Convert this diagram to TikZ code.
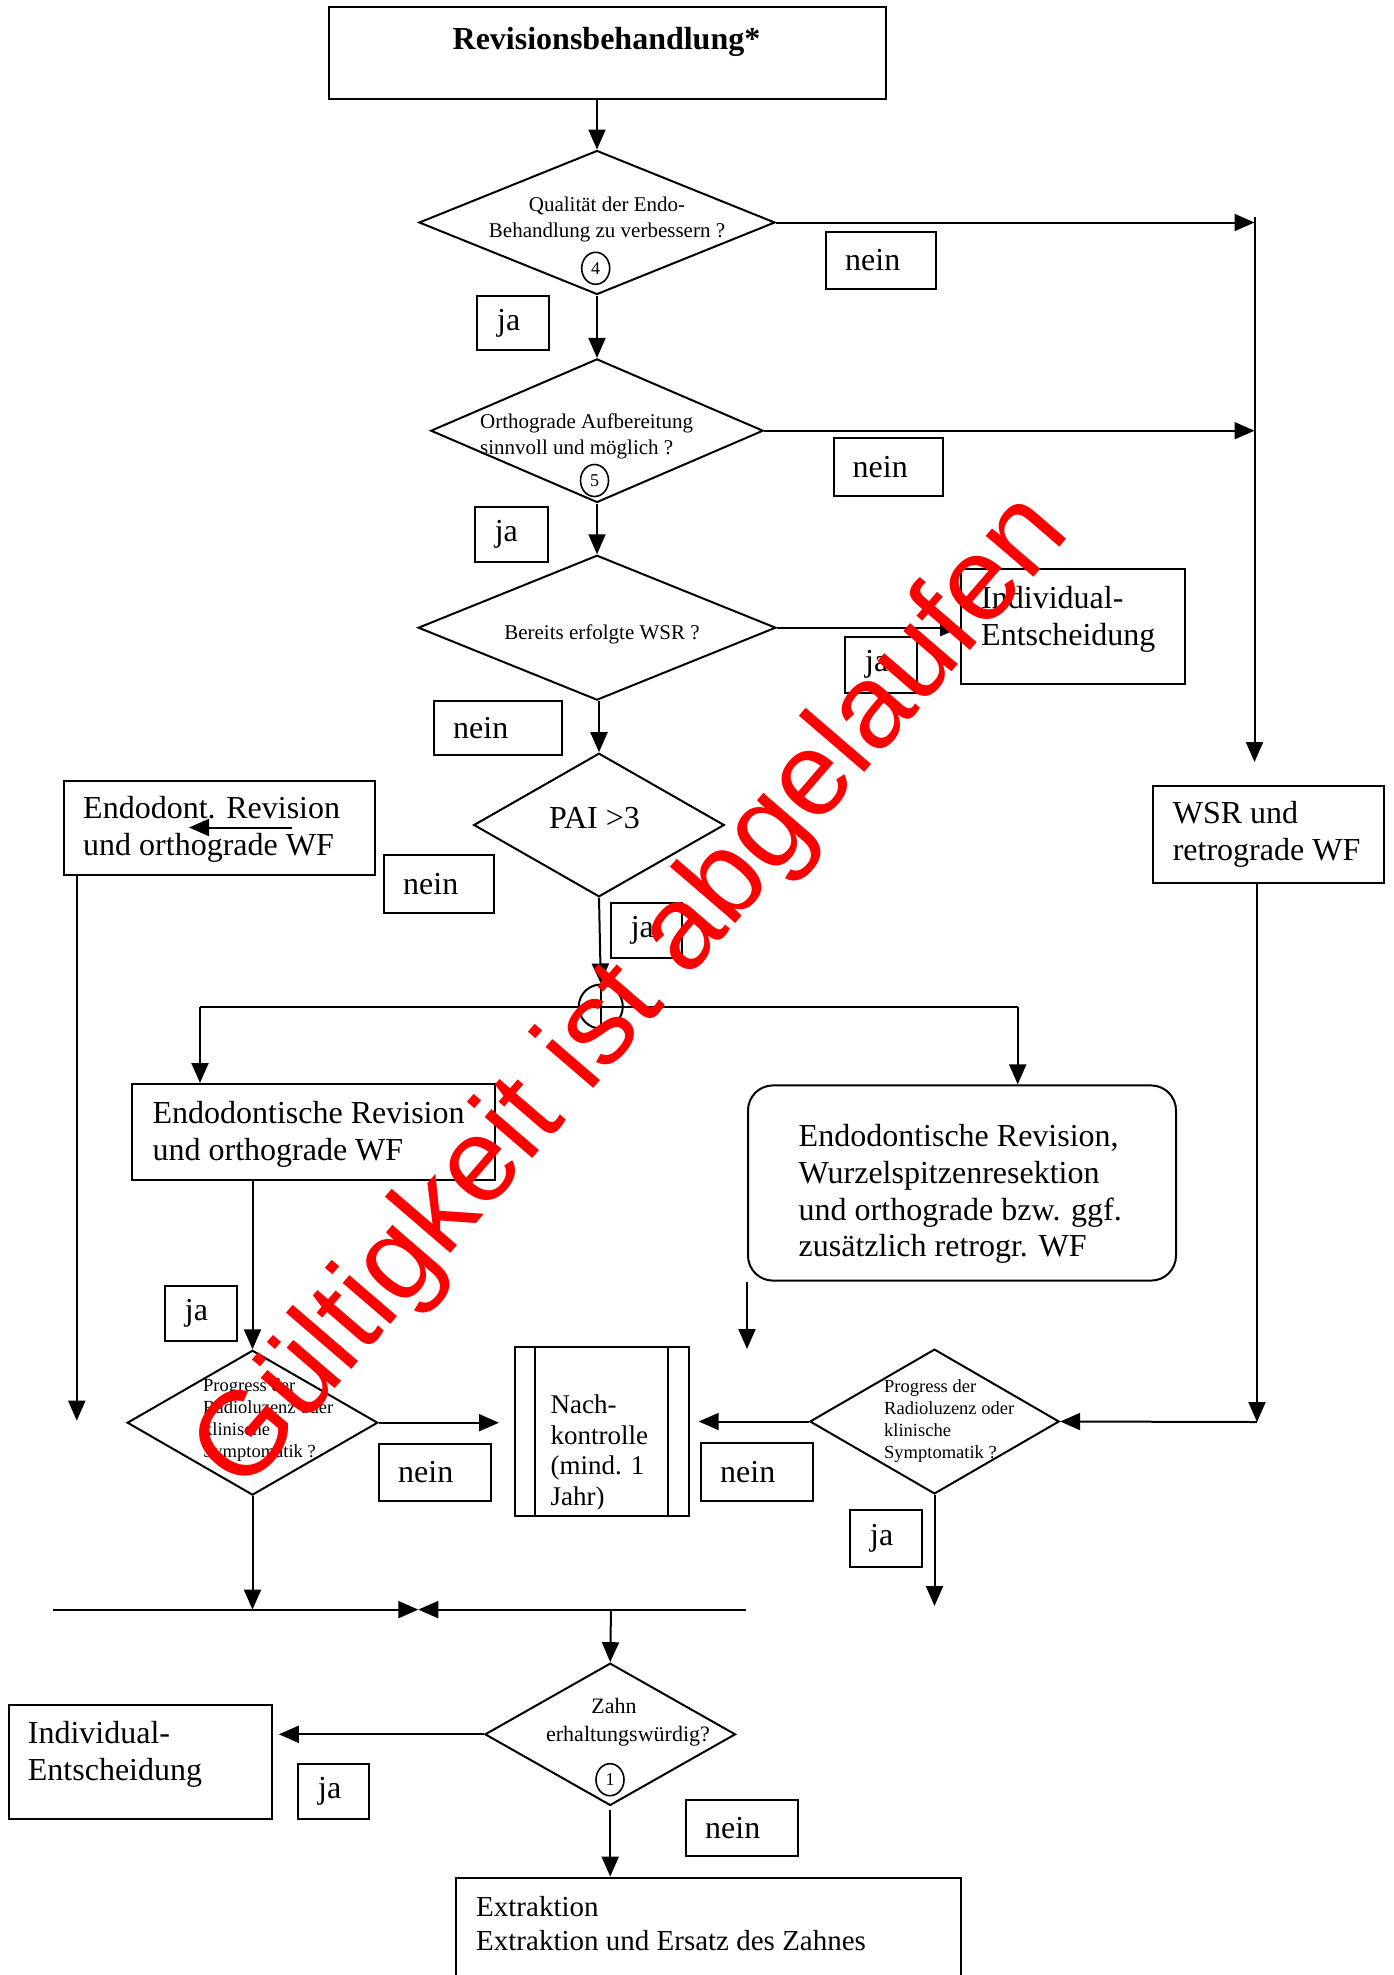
\documentclass[tikz,border=0pt]{standalone}
\usepackage{fontspec}
\setmainfont{Liberation Serif}
\newfontfamily\wmfont{Liberation Sans}
\usetikzlibrary{arrows.meta,shapes.geometric,calc}
\newcommand\FBig{\fontsize{32}{36.7}\selectfont}
\newcommand\FBld{\fontsize{32}{36.7}\selectfont\bfseries}
\newcommand\FSml{\fontsize{21}{26}\selectfont}
\newcommand\FTny{\fontsize{18.5}{21.8}\selectfont}
\newcommand\FZhn{\fontsize{22}{27.7}\selectfont}
\newcommand\FNk{\fontsize{27}{30.7}\selectfont}
\newcommand\FEx{\fontsize{29}{34}\selectfont}
\newcommand\FCrc{\fontsize{18}{20}\selectfont}
\begin{document}
\begin{tikzpicture}[x=1pt,y=-1pt,
  ln/.style={line width=2pt},
  arr/.style={ln,-{Triangle[length=20pt,width=17pt]}},
  box/.style={draw,ln,rectangle,inner sep=0pt,anchor=north west},
  dia/.style={draw,ln,diamond,inner sep=0pt},
  txt/.style={inner sep=0pt,align=left,anchor=west,font=\FBig},
  ctxt/.style={inner sep=0pt,align=center},
  circ/.style={draw,line width=1.6pt,ellipse,inner sep=0pt,minimum width=28pt,minimum height=32pt,font=\FCrc}
]
\fill[white] (0,0) rectangle (1393,1975);
\useasboundingbox (0,0) rectangle (1393,1975);

% ---------- top ----------
\node[box,minimum width=557.9pt,minimum height=91.9pt] (T) at (327.5,6.3) {};
\node[inner sep=0pt,anchor=base,font=\FBld] (tT) at (606.5,49) {Revisionsbehandlung*};

% ---------- diamonds ----------
\node[dia,minimum width=356pt,minimum height=144pt] (D1) at (597,222.5) {};
\node[ctxt,font=\FSml] (tD1) at (607,219) {Qualität der Endo-\\Behandlung zu verbessern ?};
\node[circ] (c4) at (595.7,268.3) {4};

\node[dia,minimum width=332.5pt,minimum height=143.6pt] (D2) at (597,430.7) {};
\node[txt,font=\FSml] (tD2) at (480,436) {Orthograde Aufbereitung\\sinnvoll und möglich ?};
\node[circ] (c5) at (594.5,480.5) {5};

\node[dia,minimum width=357.7pt,minimum height=144.9pt] (D3) at (597,627.7) {};
\node[ctxt,font=\FSml] (tD3) at (602,634.5) {Bereits erfolgte WSR ?};

\node[dia,minimum width=250.6pt,minimum height=143.6pt] (D4) at (599,825) {};
\node[ctxt,font=\FBig] (tD4) at (594.5,818) {PAI >3};

\node[dia,minimum width=250.6pt,minimum height=144.8pt] (D5) at (252.5,1422.7) {};
\node[txt,font=\FTny] (tD5) at (203,1420) {Progress der\\Radioluzenz oder\\klinische\\Symptomatik ?};

\node[dia,minimum width=249.4pt,minimum height=144.8pt] (D6) at (934.5,1421.5) {};
\node[txt,font=\FTny] (tD6) at (884,1421) {Progress der\\Radioluzenz oder\\klinische\\Symptomatik ?};

\node[dia,minimum width=250.6pt,minimum height=142.3pt] (D7) at (610.2,1734.3) {};
\node[ctxt,font=\FZhn] (tD7) at (628,1722) {Zahn\hspace*{28pt}\\erhaltungswürdig?};
\node[circ] (c1) at (610,1779.7) {1};

% ---------- label boxes ----------
\node[box,minimum width=109.6pt,minimum height=57.9pt] (N1) at (825,230.5) {};
\node[txt] (tN1) at ([xshift=20pt]N1.west) {nein};
\node[box,minimum width=72pt,minimum height=54.3pt] (J1) at (476,294.7) {};
\node[txt] (tJ1) at ([xshift=21pt]J1.west) {ja};
\node[box,minimum width=109.5pt,minimum height=58pt] (N2) at (832.5,437) {};
\node[txt] (tN2) at ([xshift=20pt]N2.west) {nein};
\node[box,minimum width=73pt,minimum height=54.5pt] (J2) at (473.6,506) {};
\node[txt] (tJ2) at ([xshift=21pt]J2.west) {ja};
\node[box,minimum width=71.6pt,minimum height=55.5pt] (J3) at (844,636) {};
\node[txt] (tJ3) at ([xshift=21pt]J3.west) {ja};
\node[box,minimum width=127.5pt,minimum height=54.4pt] (N3) at (433,700) {};
\node[txt] (tN3) at ([xshift=20pt]N3.west) {nein};
\node[box,minimum width=109.5pt,minimum height=58pt] (N4) at (383,854) {};
\node[txt] (tN4) at ([xshift=20pt]N4.west) {nein};
\node[box,minimum width=71.8pt,minimum height=55.4pt] (J4) at (609.6,901.8) {};
\node[txt] (tJ4) at ([xshift=21pt]J4.west) {ja};
\node[box,minimum width=71.8pt,minimum height=55.3pt] (J5) at (163.7,1284.7) {};
\node[txt] (tJ5) at ([xshift=21pt]J5.west) {ja};
\node[box,minimum width=112pt,minimum height=57pt] (N5) at (378,1443) {};
\node[txt] (tN5) at ([xshift=20pt]N5.west) {nein};
\node[box,minimum width=112pt,minimum height=58pt] (N6) at (700,1442) {};
\node[txt] (tN6) at ([xshift=20pt]N6.west) {nein};
\node[box,minimum width=71.7pt,minimum height=56.6pt] (J6) at (849,1509) {};
\node[txt] (tJ6) at ([xshift=21pt]J6.west) {ja};
\node[box,minimum width=70.8pt,minimum height=54.5pt] (J7) at (297,1763) {};
\node[txt] (tJ7) at ([xshift=21pt]J7.west) {ja};
\node[box,minimum width=112pt,minimum height=56.4pt] (N7) at (685,1798.6) {};
\node[txt] (tN7) at ([xshift=20pt]N7.west) {nein};

% ---------- process boxes ----------
\node[box,minimum width=224pt,minimum height=114.6pt] (IE1) at (960,568) {};
\node[txt] (tIE1) at (981,619) {Individual-\\Entscheidung};
\node[box,minimum width=311pt,minimum height=94.4pt] (E1) at (63,779.6) {};
\node[txt] (tE1) at (83,829) {Endodont. Revision\\und orthograde WF};
\node[box,minimum width=230.6pt,minimum height=97pt] (WSR) at (1152.4,784.7) {};
\node[txt] (tWSR) at (1172.6,834) {WSR und\\retrograde WF};
\node[box,minimum width=362.7pt,minimum height=96pt] (E2) at (131,1083) {};
\node[txt] (tE2) at (152.4,1134) {Endodontische Revision\\und orthograde WF};
\node[box,rounded corners=25pt,minimum width=428pt,minimum height=195.2pt] (R) at (747,1084.4) {};
\node[txt] (tR) at (798.5,1194) {Endodontische Revision,\\Wurzelspitzenresektion\\und orthograde bzw. ggf.\\zusätzlich retrogr. WF};
\node[box,minimum width=173.7pt,minimum height=168.6pt] (NK) at (514,1346.4) {};
\draw[ln] ([xshift=21.3pt]NK.north west) -- ([xshift=21.3pt]NK.south west);
\draw[ln] ([xshift=-21.4pt]NK.north east) -- ([xshift=-21.4pt]NK.south east);
\begin{scope}
\clip (535.3,1346.4) rectangle (666.3,1508);
\node[txt,font=\FNk] (tNK) at (550.4,1453) {Nach-\\kontrolle\\(mind. 1\\Jahr)};
\end{scope}
\node[box,minimum width=263.2pt,minimum height=113.5pt] (IE2) at (7.6,1704) {};
\node[txt] (tIE2) at (27.7,1754) {Individual-\\Entscheidung};
\node[box,minimum width=505pt,minimum height=140pt] (EX) at (454.7,1876.6) {};
\node[txt,font=\FEx] (tEX) at (476,1924) {Extraktion\\Extraktion und Ersatz des Zahnes};

% ---------- junction ----------
\node[draw,ln,circle,minimum size=44pt,inner sep=0pt] (J) at (600.8,1006.5) {};

% ---------- coordinates ----------
\coordinate (vtop) at (1254.5,217);
\coordinate (vbot) at (1254.5,762);
\coordinate (hl) at (200,1006.5);
\coordinate (hr) at (1017.7,1006.5);
\coordinate (e1a) at (76.8,874);
\coordinate (e1b) at (76.8,1420.7);
\coordinate (ia) at (292,827.5);
\coordinate (ib) at (189,827.5);
\coordinate (wsrb) at (1257,1422);
\coordinate (rb) at (747,1349);
\coordinate (d5b) at (252.5,1609.6);
\coordinate (d6b) at (934.5,1606);
\coordinate (ml) at (53,1609.6);
\coordinate (mr) at (745.6,1609.6);
\coordinate (mm) at (418.3,1609.6);
\coordinate (md) at (611,1609.6);

% ---------- connectors ----------
\draw[arr] (D1.north |- T.south) -- (D1.north);
\draw[arr] (D1.east) -- (D1.east -| vtop);
\draw[arr] (vtop) -- (vbot);
\draw[arr] (D1.south) -- (D2.north);
\draw[arr] (D2.east) -- (D2.east -| vtop);
\draw[arr] (D2.south) -- (D3.north);
\draw[arr] (D3.east) -- (D3.east -| IE1.west);
\draw[arr] (D4.north |- D3.south) -- (D4.north);
\draw[arr] (D4.south) -- (J.north);
\draw[ln] (J.north) -- (J.south);
\draw[ln] (hl) -- (hr);
\draw[arr] (hl) -- (hl |- E2.north);
\draw[arr] (hr) -- (hr |- R.north);
\draw[arr] (e1a) -- (e1b);
\draw[arr] (ia) -- (ib);
\draw[arr] (D5.north |- E2.south) -- (D5.north);
\draw[arr] (D5.east) -- ([xshift=-15pt]D5.east -| NK.west);
\draw[arr] (D6.west) -- ([xshift=9pt]D6.west -| NK.east);
\draw[arr] (wsrb |- WSR.south) -- (wsrb);
\draw[arr] (wsrb) -- (D6.east);
\draw[arr] (rb |- R.south) -- (rb);
\draw[arr] (D5.south) -- (d5b);
\draw[arr] (D6.south) -- (d6b);
\draw[arr] (ml) -- (mm);
\draw[arr] (mr) -- (mm);
\draw[arr] (md) -- (D7.north);
\draw[arr] (D7.west) -- ([xshift=6pt]D7.west -| IE2.east);
\draw[arr,shorten <=4pt] (D7.south) -- (EX.north -| D7.south);

% ---------- watermark ----------
\node[inner sep=0pt,text=red,font=\wmfont\fontsize{119}{119}\selectfont,rotate=49.3] (wm) at (634,994) {Gültigkeit ist abgelaufen};
\end{tikzpicture}
\end{document}
